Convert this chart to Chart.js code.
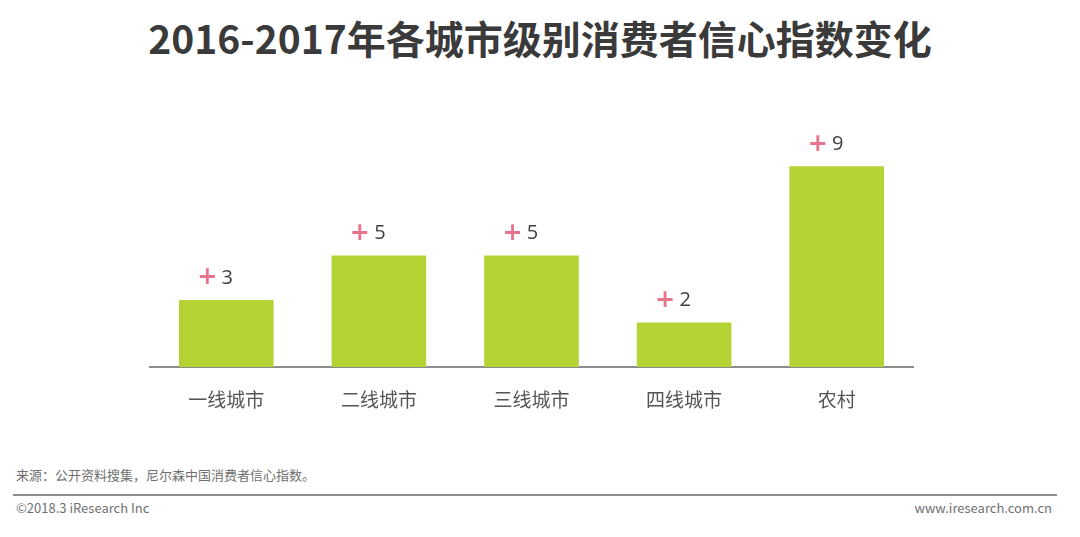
<!DOCTYPE html>
<html>
<head>
<meta charset="utf-8">
<script src="https://cdn.jsdelivr.net/npm/chart.js@4/dist/chart.umd.min.js"></script>
<style>
  body { margin: 0; background: #fff; width: 1080px; height: 537px; position: relative; overflow: hidden;
         font-family: "Noto Sans CJK SC", "Noto Sans", sans-serif; }
  #title { position: absolute; top: 11px; left: 0; width: 1080px; text-align: center;
           font-size: 39px; font-weight: bold; color: #3a3a3a; line-height: 52px; }
  #wrap { position: absolute; left: 0; top: 0; }
  .foot { position: absolute; font-size: 13px; color: #707070; line-height: 18px; }
  #rule { position: absolute; left: 13px; top: 494px; width: 1044px; height: 2px; background: #8c8c8c; }
</style>
</head>
<body>
<div id="title">2016-2017年各城市级别消费者信心指数变化</div>
<div id="wrap"><canvas id="chart" width="1080" height="440"></canvas></div>
<div class="foot" style="left:16px; top:466px;">来源：公开资料搜集，尼尔森中国消费者信心指数。</div>
<div id="rule"></div>
<div class="foot" style="left:16px; top:499px;">©2018.3 iResearch Inc</div>
<div class="foot" style="right:28px; top:499px;">www.iresearch.com.cn</div>
<script>
// categories and values (change in index points)
const cities = ["一线城市", "二线城市", "三线城市", "四线城市", "农村"];
const changes = [3, 5, 5, 2, 9];
const barColor = "#b4d334";

// draws "+ n" above every bar
const plusLabels = {
  id: "plusLabels",
  afterDatasetsDraw(chart) {
    const ctx = chart.ctx;
    const meta = chart.getDatasetMeta(0);
    ctx.save();
    ctx.textAlign = "center";
    ctx.textBaseline = "middle";
    meta.data.forEach((bar, i) => {
      const y = bar.y - 22;
      ctx.fillStyle = "#e9728c";
      ctx.font = "bold 24px 'DejaVu Sans', sans-serif";
      ctx.fillText("+", bar.x - 19, y);
      ctx.fillStyle = "#404040";
      ctx.font = "20px 'Open Sans', 'Noto Sans', sans-serif";
      ctx.fillText(String(changes[i]), bar.x + 1, y);
    });
    ctx.restore();
  }
};

new Chart(document.getElementById("chart"), {
  type: "bar",
  plugins: [plusLabels],
  data: {
    labels: cities,
    datasets: [{
      data: changes,
      backgroundColor: barColor,
      categoryPercentage: 0.62,
      barPercentage: 1
    }]
  },
  options: {
    responsive: false,
    animation: false,
    layout: { padding: { left: 150, right: 167, top: 144, bottom: 23 } },
    plugins: { legend: { display: false }, tooltip: { enabled: false } },
    scales: {
      x: {
        grid: { display: false, drawTicks: false },
        border: { color: "#8c8c8c", width: 2 },
        ticks: { color: "#555", padding: 21, font: { size: 19, family: "'Noto Sans CJK SC', sans-serif" } },
        afterFit: (s) => { s.height = 50; }
      },
      y: { display: false, min: 0, max: 10 }
    }
  }
});
</script>
</body>
</html>
